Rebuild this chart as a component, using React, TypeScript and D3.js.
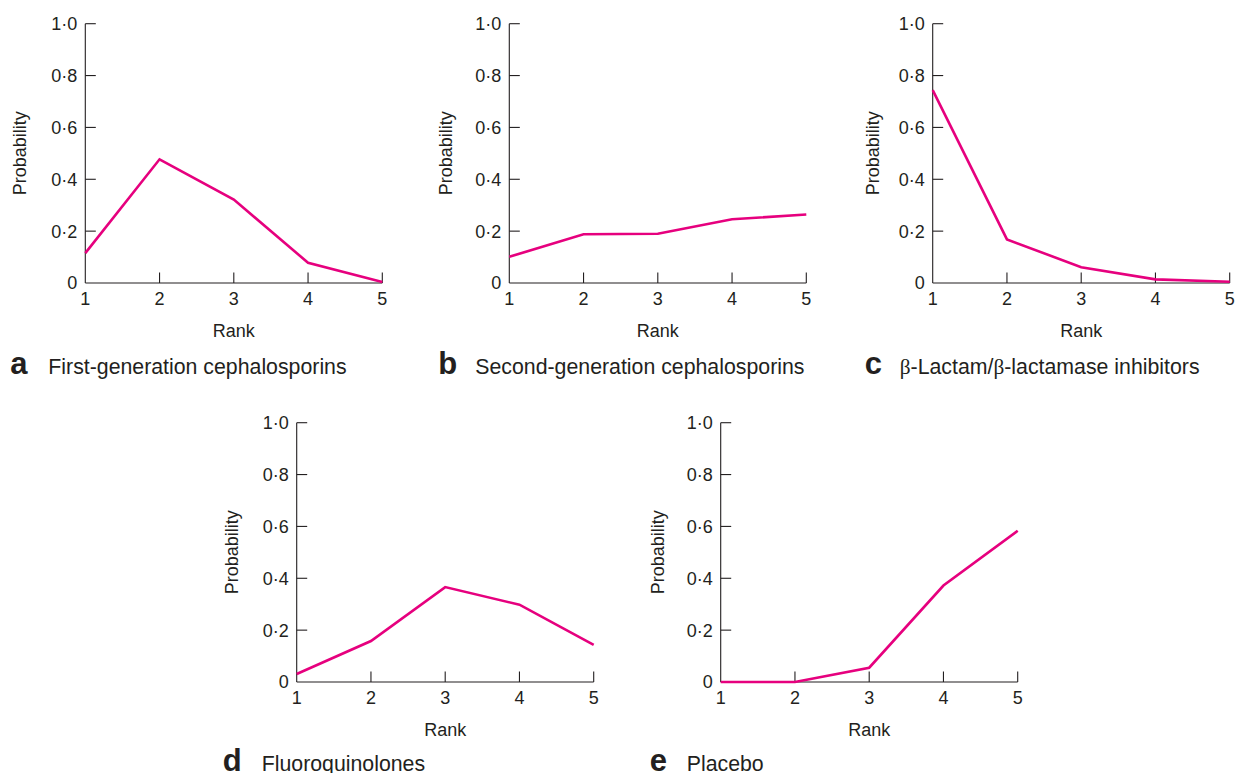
import React from "react";
import * as d3 from "d3";

const ranks = [1, 2, 3, 4, 5];
const yTicks = [0, 0.2, 0.4, 0.6, 0.8, 1.0];
const yTickLabels = ["0", "0·2", "0·4", "0·6", "0·8", "1·0"];
const xTickLabels = ["1", "2", "3", "4", "5"];

const panelLetters = ["a", "b", "c", "d", "e"];
const panelNames = [
  "First-generation cephalosporins",
  "Second-generation cephalosporins",
  "β-Lactam/β-lactamase inhibitors",
  "Fluoroquinolones",
  "Placebo",
];

const firstGen = [0.115, 0.477, 0.322, 0.078, 0.004];
const secondGen = [0.101, 0.188, 0.19, 0.246, 0.264];
const betaLactam = [0.744, 0.168, 0.061, 0.014, 0.005];
const fluoro = [0.031, 0.158, 0.366, 0.298, 0.143];
const placebo = [0.0, 0.0, 0.055, 0.372, 0.583];

const seriesList = [firstGen, secondGen, betaLactam, fluoro, placebo];

// layout (positions of each panel's plot area)
const layout = [
  { left: 85.3, top: 23.7, letterDx: -75, nameDx: -37, probDx: -59, capDy: 91.3 },
  { left: 509.3, top: 23.7, letterDx: -71, nameDx: -34, probDx: -57, capDy: 91.3 },
  { left: 932.7, top: 23.7, letterDx: -68, nameDx: -33, probDx: -54, capDy: 91.3 },
  { left: 296.7, top: 422.7, letterDx: -74, nameDx: -35, probDx: -59, capDy: 89.5 },
  { left: 720.7, top: 422.7, letterDx: -71, nameDx: -34, probDx: -57, capDy: 89.5 },
];
const plotW = 297;
const plotH = 259.3;

const FONT = "'Liberation Sans', Arial, Helvetica, sans-serif";
const INK = "#231f20";
const LINE = "#e6007e";

function Panel({ idx }: { idx: number }) {
  const L = layout[idx];
  const data = seriesList[idx];
  const x = d3.scaleLinear().domain([1, 5]).range([0, plotW]);
  const y = d3.scaleLinear().domain([0, 1]).range([plotH, 0]);
  const line = d3
    .line<number>()
    .x((_, i) => x(ranks[i]))
    .y((d) => y(d));
  const name = panelNames[idx];
  const parts = name.split("β");
  return (
    <g transform={`translate(${L.left},${L.top})`} fontFamily={FONT} fill={INK}>
      <line x1={0} x2={0} y1={y(1)} y2={plotH} stroke={INK} strokeWidth={1.1} />
      <line x1={0} x2={plotW} y1={plotH} y2={plotH} stroke={INK} strokeWidth={1.1} />
      {yTicks.map((t, i) => (
        <g key={"y" + i}>
          {t > 0 && (
            <line x1={0} x2={10.5} y1={y(t)} y2={y(t)} stroke={INK} strokeWidth={1.1} />
          )}
          <text x={-8} y={y(t)} dy="0.36em" textAnchor="end" fontSize={18}>
            {yTickLabels[i]}
          </text>
        </g>
      ))}
      {ranks.map((r, i) => (
        <g key={"x" + i}>
          {r > 1 && (
            <line x1={x(r)} x2={x(r)} y1={plotH} y2={plotH - 10.5} stroke={INK} strokeWidth={1.1} />
          )}
          <text x={x(r)} y={plotH + 22.5} textAnchor="middle" fontSize={18}>
            {xTickLabels[i]}
          </text>
        </g>
      ))}
      <text x={plotW / 2} y={plotH + 53.7} textAnchor="middle" fontSize={18}>
        Rank
      </text>
      <text
        transform={`translate(${L.probDx},${plotH / 2}) rotate(-90)`}
        textAnchor="middle"
        fontSize={18}
      >
        Probability
      </text>
      <path d={line(data) || ""} fill="none" stroke={LINE} strokeWidth={2.6} />
      <text x={L.letterDx} y={plotH + L.capDy} fontSize={31} fontWeight="bold">
        {panelLetters[idx]}
      </text>
      <text x={L.nameDx} y={plotH + L.capDy} fontSize={21.3}>
        {parts.map((p, k) => (
          <React.Fragment key={k}>
            {k > 0 && <tspan fontFamily="'Liberation Serif', 'Times New Roman', serif">β</tspan>}
            {p}
          </React.Fragment>
        ))}
      </text>
    </g>
  );
}

export default function App() {
  return (
    <svg
      width={1236}
      height={773}
      style={{ position: "absolute", left: 0, top: 0, background: "#fff" }}
    >
      <rect width={1236} height={773} fill="#fff" />
      {seriesList.map((_, i) => (
        <Panel key={i} idx={i} />
      ))}
    </svg>
  );
}
